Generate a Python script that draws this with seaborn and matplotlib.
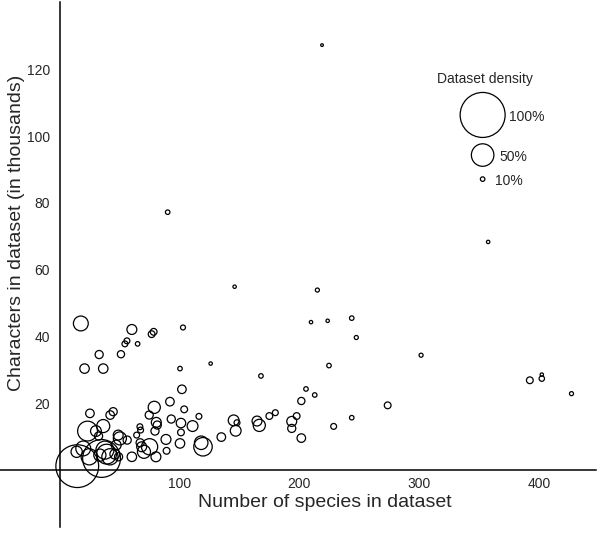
import numpy as np
import pandas as pd
import matplotlib
matplotlib.use("Agg")
import matplotlib.pyplot as plt
import seaborn as sns

# number of species, characters (thousands), dataset density (%)
species = [17.5, 20.6, 36.2, 32.8, 51, 54.3, 56, 60.1, 64.9, 76.6,
           78.3, 102.8, 100.3, 125.9, 167.9, 101.9, 91.9, 78.8, 103.8, 74.6,
           116.1, 93, 80.5, 101.1, 110.8, 81.3, 79.4, 101.1, 145.1, 147.9,
           146.8, 134.8, 164.6, 166.5, 174.9, 179.9, 193.6, 193.6, 197.7, 201.6,
           201.6, 119.5, 118, 100.3, 88.6, 89.1, 80.2, 74.9, 70.2, 66.8,
           67.4, 60.1, 50.1, 48.7, 56.2, 42, 44.5, 25.1, 23.1, 36.2,
           30.1, 32.3, 19.5, 24.5, 14.5, 34.8, 39, 41.8, 45.9, 33.4,
           37.6, 47, 49, 209.7, 223.6, 243.7, 247.5, 301.6, 224.7, 205.5,
           212.8, 273.7, 243.7, 228.6, 392.4, 402.4, 402.4, 427.2, 218.9, 357.6,
           215, 90, 145.9, 64.1, 68.3, 14, 67]
characters = [43.9, 30.4, 30.4, 34.6, 34.7, 37.8, 38.7, 42.1, 37.8, 40.7,
              41.4, 42.7, 30.4, 31.9, 28.2, 24.2, 20.5, 18.8, 18.2, 16.5,
              16.1, 15.3, 14.3, 14.1, 13.2, 13.5, 11.7, 11.3, 14.9, 14.2,
              11.8, 9.9, 14.7, 13.4, 16.2, 17.2, 14.6, 12.5, 16.2, 20.7,
              9.6, 7.0, 8.2, 8.0, 9.2, 5.8, 4.0, 7.0, 5.5, 13.0,
              12.0, 4.0, 9.5, 10.5, 9.0, 16.5, 17.5, 17.0, 11.7, 13.2,
              11.7, 10.2, 6.5, 4.0, 1.2, 3.5, 4.8, 4.0, 4.8, 4.5,
              6.0, 7.5, 4.0, 44.3, 44.7, 45.5, 39.7, 34.4, 31.3, 24.3,
              22.5, 19.4, 15.7, 13.1, 26.9, 27.4, 28.6, 22.9, 127.2, 68.3,
              53.9, 77.2, 54.9, 10.5, 7.0, 5.5, 8.2]
density = [33, 21, 21, 18, 16, 13, 13, 22, 10, 15,
           15, 11, 10, 7.5, 10, 19, 19, 27, 15, 18,
           13, 18, 22, 21, 24, 18, 18, 15, 24, 13,
           24, 19, 22, 27, 15, 13, 22, 18, 15, 16,
           19, 41, 30, 21, 22, 15, 22, 36, 29, 13,
           13, 21, 29, 22, 18, 19, 18, 19, 44, 29,
           24, 18, 33, 36, 95, 84, 44, 36, 22, 27,
           40, 22, 18, 7.5, 7.5, 10, 9, 9, 10, 10,
           10, 15, 10, 13, 15, 12, 7.5, 9, 6, 7.5,
           9, 10, 7.5, 13, 22, 25, 18]

legend_density = [100, 50, 10]
legend_labels = ["100%", "50%", "10%"]

# marker diameter (pt) grows linearly with density
def area(d):
    return (0.324 * np.asarray(d)) ** 2

df = pd.DataFrame({"species": species, "characters": characters,
                   "area": area(density)})
leg = pd.DataFrame({"species": [353] * 3, "characters": [106.3, 94.3, 87.1],
                    "area": area(legend_density)})

sns.set_style("white")
plt.rcParams["font.family"] = ["Liberation Sans", "DejaVu Sans"]

fig = plt.figure(figsize=(6, 5.37), dpi=100)
ax = fig.add_axes([0, 0, 1, 1])

amax = float(area(100))
for d in (df, leg):
    sns.scatterplot(data=d, x="species", y="characters", size="area",
                    sizes=(0, amax), size_norm=(0, amax), legend=False,
                    color="none", edgecolor="black", linewidth=0.9, ax=ax)

ax.text(355, 117, "Dataset density", fontsize=10, ha="center", va="center")
for yy, xx, lab in zip(leg["characters"], [375.4, 367, 363.4], legend_labels):
    ax.text(xx, yy - 0.5, lab, fontsize=10, ha="left", va="center")

ax.set_xlim(-50, 451)
ax.set_ylim(-20, 140.7)

for s in ["top", "right"]:
    ax.spines[s].set_visible(False)
ax.spines["left"].set_position(("data", 0))
ax.spines["bottom"].set_position(("data", 0))
ax.spines["left"].set_bounds(-17, 140)
ax.spines["bottom"].set_bounds(-50, 448)
for s in ["left", "bottom"]:
    ax.spines[s].set_linewidth(1.1)
    ax.spines[s].set_color("black")

ax.set_xticks([100, 200, 300, 400])
ax.set_yticks([20, 40, 60, 80, 100, 120])
ax.tick_params(axis="x", direction="out", length=2, width=0.8, pad=3, labelsize=10)
ax.tick_params(axis="y", direction="out", length=3, width=0.8, pad=4, labelsize=10)

ax.set_xlabel("Number of species in dataset", fontsize=14)
ax.set_ylabel("Characters in dataset (in thousands)", fontsize=14)
ax.xaxis.set_label_coords(0.541, 0.08)
ax.yaxis.set_label_coords(0.042, 0.566)

fig.savefig("out.png", dpi=100)
